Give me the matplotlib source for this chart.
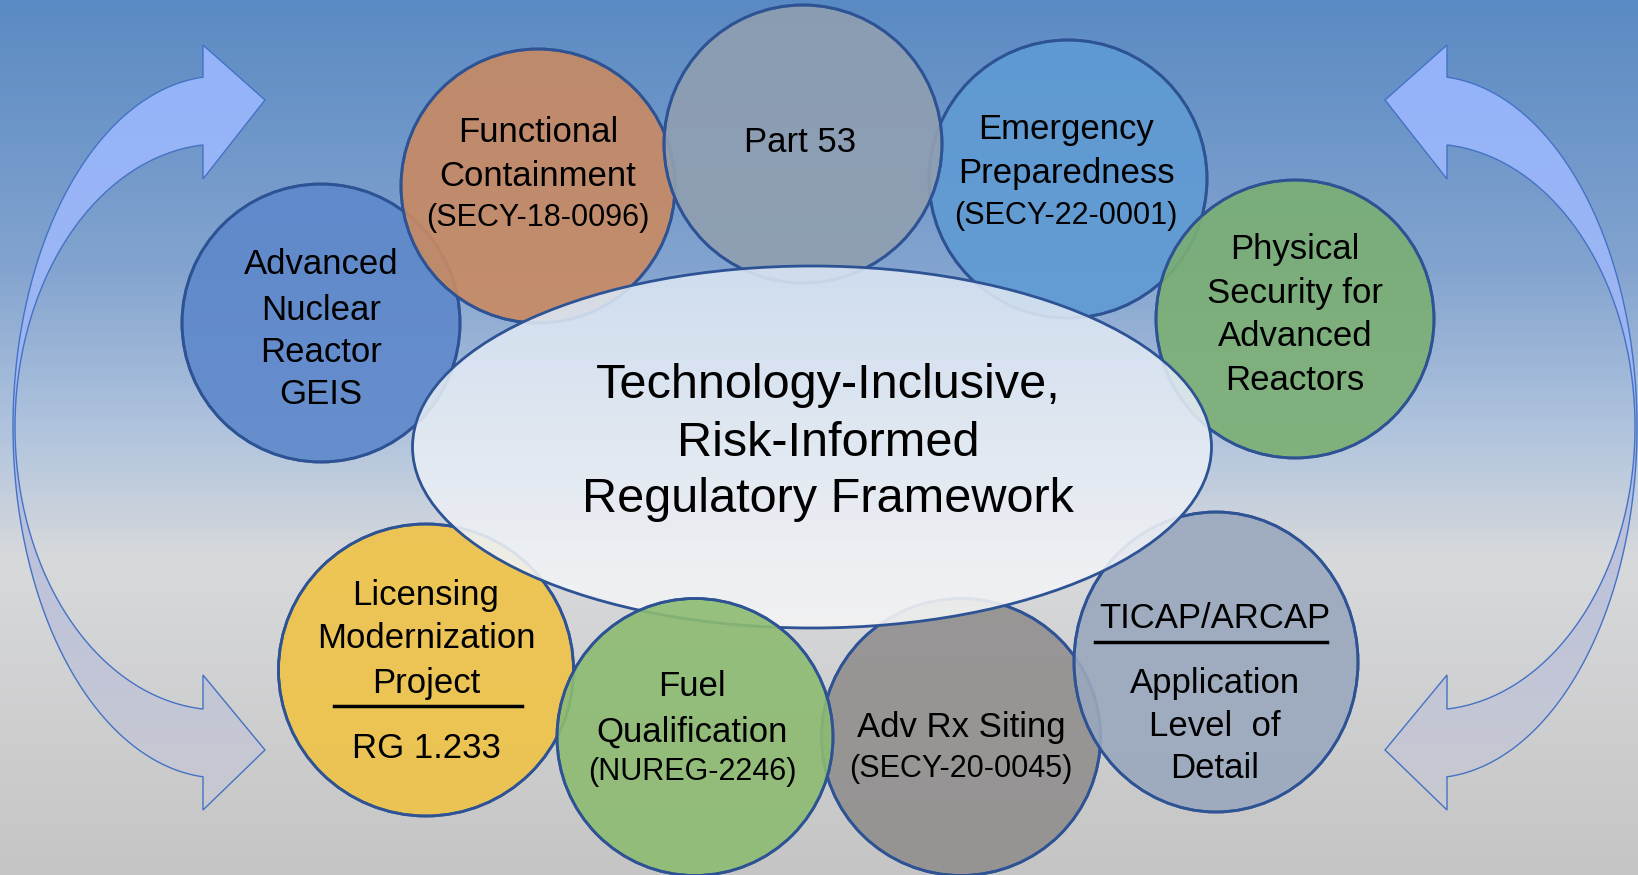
import numpy as np
import matplotlib.pyplot as plt
from matplotlib.patches import Ellipse, Polygon
from matplotlib.colors import LinearSegmentedColormap

plt.rcParams['font.family'] = ['Liberation Sans', 'DejaVu Sans']

W, H = 1638, 875

# bubble texts (one list of lines per bubble)
bubble_lines = [
    ["Advanced", "Nuclear", "Reactor", "GEIS"],
    ["Functional", "Containment", "(SECY-18-0096)"],
    ["Emergency", "Preparedness", "(SECY-22-0001)"],
    ["Physical", "Security for", "Advanced", "Reactors"],
    ["Licensing", "Modernization", "Project", "RG 1.233"],
    ["Adv Rx Siting", "(SECY-20-0045)"],
    ["TICAP/ARCAP", "Application", "Level  of", "Detail"],
    ["Part 53"],
    ["Fuel", "Qualification", "(NUREG-2246)"],
]
bubble_colors = ["#5E88CB", "#C98A62", "#5F9BD3", "#7BAF73", "#EFC347",
                 "#918F8E", "#9AA8BE", "#909FB1", "#8DBB72"]
center_text = ["Technology-Inclusive,", "Risk-Informed", "Regulatory Framework"]

# layout: centre x, centre y, width, height (pixels)
bubble_geom = [(321, 323, 278, 278), (538, 186, 274, 274), (1068, 179, 278, 278),
               (1295, 319, 278, 278), (426, 670, 295, 292), (961, 737, 279, 277),
               (1216, 662, 284, 300), (803, 144, 278, 278), (695, 737, 276, 277)]
text_x = [321, 538, 1066, 1295, 426, 961, 1215, 800, 692]
text_y = [[261, 306, 349, 391], [128, 172, 214], [125, 169, 212],
          [245, 289, 333, 376], [591, 635, 679, 745], [723, 765],
          [614, 680, 723, 765], [139], [683, 728, 768]]
rules = {4: (334, 522, 706), 6: (1095, 1327, 642)}
edge = "#2E5395"
dy = 4  # baseline nudge


def vgrad(stops, n=256):
    cmap = LinearSegmentedColormap.from_list(
        "g", [(p, np.array(c) / 255.0) for p, c in stops])
    return cmap(np.linspace(0, 1, n))[:, None, :]


fig = plt.figure(figsize=(16.38, 8.75), dpi=100)
ax = fig.add_axes([0, 0, 1, 1])

# background
bg = vgrad([(0.0, (90, 138, 195)), (0.3, (130, 163, 207)), (0.5, (178, 197, 222)),
            (0.64, (216, 217, 219)), (1.0, (197, 197, 197))])
ax.imshow(bg, extent=(0, W, H, 0), aspect="auto", zorder=0, interpolation="bilinear")

# curved arrows on both sides
t_out = np.linspace(np.arccos((203 - 220) / 207.0), 2 * np.pi - np.arccos((203 - 220) / 207.0), 200)
t_in = np.linspace(np.arccos((203 - 220) / 205.0), 2 * np.pi - np.arccos((203 - 220) / 205.0), 200)
outer = np.c_[220 + 207 * np.cos(t_out), 427 - 351 * np.sin(t_out)]
inner = np.c_[220 + 205 * np.cos(t_in), 427 - 283 * np.sin(t_in)]
left_pts = np.vstack([[[265, 100], [203, 45]], outer,
                      [[203, 810], [265, 750], [203, 675]],
                      inner[::-1], [[203, 179]]])
arrow_grad = vgrad([(0.0, (148, 179, 250)), (0.5, (160, 183, 240)),
                    (0.64, (188, 194, 220)), (1.0, (200, 201, 208))])
for pts in [left_pts, np.c_[1650 - left_pts[:, 0], left_pts[:, 1]]]:
    poly = Polygon(pts, closed=True, facecolor="none", edgecolor="#4472C4", lw=1.0, zorder=1.5)
    ax.add_patch(poly)
    im = ax.imshow(arrow_grad, extent=(0, W, 815, 40), aspect="auto", zorder=1,
                   interpolation="bilinear")
    im.set_clip_path(poly)

# bubbles (fuel bubble sits above the centre ellipse)
for i, (cx, cy, w, h) in enumerate(bubble_geom):
    z = 3 if i == 8 else 1.2
    ax.add_patch(Ellipse((cx, cy), w, h, facecolor=bubble_colors[i], edgecolor=edge,
                         lw=2, alpha=0.9, zorder=z))
    ax.add_patch(Ellipse((cx, cy), w, h, facecolor="none", edgecolor=edge, lw=2, zorder=z))

# centre ellipse with light gradient
ell = Ellipse((812, 447), 799, 362, facecolor="none", edgecolor=edge, lw=2, zorder=2.5)
ax.add_patch(ell)
eg = vgrad([(0.0, (216, 228, 242)), (1.0, (245, 245, 246))])
im = ax.imshow(eg, extent=(412, 1212, 628, 266), aspect="auto", zorder=2,
               alpha=0.9, interpolation="bilinear")
im.set_clip_path(ell)

for j, line in enumerate(center_text):
    ax.text(828, [381, 439, 496][j] + dy, line, fontsize=35, ha="center", va="center", zorder=5)

for i, lines in enumerate(bubble_lines):
    for line, y in zip(lines, text_y[i]):
        fs = 22 if line.startswith("(") else 25
        ax.text(text_x[i], y + dy, line, fontsize=fs, ha="center", va="center", zorder=5)
for i, (x0, x1, y) in rules.items():
    ax.plot([x0, x1], [y, y], color="black", lw=2.5, zorder=5)

ax.set_xlim(0, W)
ax.set_ylim(H, 0)
ax.axis("off")
fig.savefig("out.png", dpi=100)
